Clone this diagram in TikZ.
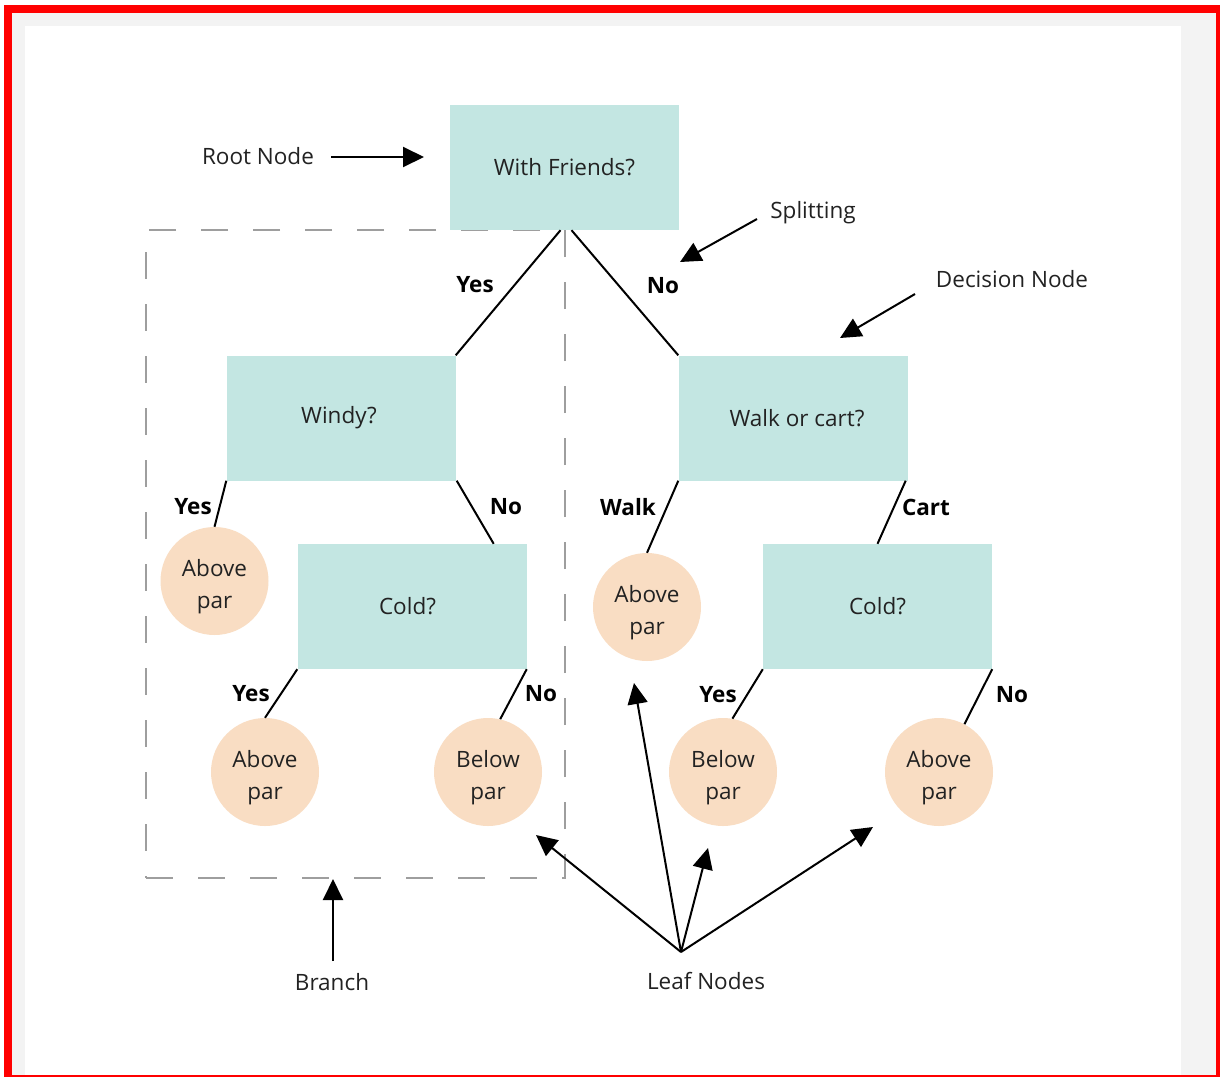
\documentclass[tikz,border=0pt]{standalone}
\usepackage{fontspec}
\setmainfont{Open Sans}
\usetikzlibrary{arrows.meta,calc}
\definecolor{boxc}{HTML}{C3E6E2}
\definecolor{leafc}{HTML}{F9DDC3}
\definecolor{bggray}{HTML}{F3F3F3}
\definecolor{txt}{HTML}{222222}
\definecolor{dashc}{HTML}{9E9E9E}
\begin{document}
\begin{tikzpicture}[x=1pt,y=-1pt,
 dbox/.style={rectangle,fill=boxc,minimum width=229pt,minimum height=125pt,inner sep=0pt,font=\fontsize{22.5}{27}\selectfont,text=txt},
 leaftxt/.style={align=center,inner sep=0pt,yshift=-6pt,font=\fontsize{22.5}{32}\selectfont,text=txt},
 leaf/.style={circle,fill=leafc,minimum size=108pt,inner sep=0pt,label={[leaftxt]center:#1}},
 lab/.style={font=\bfseries\fontsize{22.5}{27}\selectfont,text=black,inner sep=0pt},
 note/.style={font=\fontsize{22.5}{27}\selectfont,text=txt,inner sep=0pt},
 edge/.style={line width=2pt,black},
 pointer/.style={line width=2pt,black,-{Triangle[length=21pt,width=20pt]}}]
% background and frame
\useasboundingbox (0,0) rectangle (1221,1077);
\fill[white] (0,0) rectangle (1221,1077);
\fill[red] (4,5) rectangle (1220,1077);
\fill[bggray] (12,13) rectangle (1216,1075);
\fill[white] (25,26) rectangle (1181,1075);
% branch box
\node[draw=dashc,line width=2pt,dash pattern=on 27pt off 25pt,rectangle,minimum width=419pt,minimum height=648pt,inner sep=0pt] (branchbox) at (355.5,554) {};
% decision nodes
\node[dbox] (root) at (564.5,167.5) {With Friends?};
\node[dbox] (windy) at (341,418) {\hspace*{-4pt}Windy?};
\node[dbox] (walk) at (793,418) {\hspace*{8pt}Walk or cart?};
\node[dbox] (coldL) at (412,606.5) {\hspace*{-9pt}Cold?};
\node[dbox] (coldR) at (877.5,606.5) {Cold?};
% leaves
\node[leaf={Above\\par}] (leafA) at (214.5,581) {};
\node[leaf={Above\\par}] (leafB) at (647,607) {};
\node[leaf={Above\\par}] (leafC) at (265,772) {};
\node[leaf={Below\\par}] (leafD) at (488,772) {};
\node[leaf={Below\\par}] (leafE) at (723,772) {};
\node[leaf={Above\\par}] (leafF) at (939,772) {};
% edges
\draw[edge] ($(root.south)+(-4,0)$) -- (windy.north east);
\draw[edge] ($(root.south)+(7,0)$) -- (walk.north west);
\draw[edge] (windy.south west) -- (leafA.north);
\draw[edge] ($(windy.south east)+(1,0)$) -- ($(coldL.north east)+(-33,0)$);
\draw[edge] (walk.south west) -- (leafB.north);
\draw[edge] ($(walk.south east)+(-2,0)$) -- (coldR.north);
\draw[edge] (coldL.south west) -- (leafC.north);
\draw[edge] (coldL.south east) -- (leafD.77);
\draw[edge] (coldR.south west) -- (leafE.80);
\draw[edge] (coldR.south east) -- (leafF.62);
% edge labels
\node[lab] (l1) at (475,285) {Yes};
\node[lab] (l2) at (663,286) {No};
\node[lab] (l3) at (193,507) {Yes};
\node[lab] (l4) at (506,507) {No};
\node[lab] (l5) at (628,507) {Walk};
\node[lab] (l6) at (926,507) {Cart};
\node[lab] (l7) at (251,694) {Yes};
\node[lab] (l8) at (541,694) {No};
\node[lab] (l9) at (718,695) {Yes};
\node[lab] (l10) at (1012,695) {No};
% annotations
\node[note] (rootnote) at (258,156) {Root Node};
\draw[pointer] (rootnote.east)++(17,1) coordinate (rn) -- (424,157) coordinate (rt);
\node[note] (splitnote) at (813,213) {Splitting};
\coordinate (sp1) at (757,219);
\coordinate (sp2) at (680,262);
\draw[pointer] (sp1) -- (sp2);
\node[note] (decnote) at (1012,279) {Decision Node};
\coordinate (dn1) at (915,294);
\coordinate (dn2) at (840,338);
\draw[pointer] (dn1) -- (dn2);
\node[note] (branchnote) at (332,982) {Branch};
\coordinate (br1) at (333,961);
\draw[pointer] (br1) -- (branchbox.south -| br1);
\node[note] (leafnote) at (706,981) {Leaf Nodes};
\coordinate (lf) at (681,952);
\coordinate (t1) at (536,835);
\coordinate (t2) at (634,683);
\coordinate (t3) at (708,848);
\coordinate (t4) at (873,827);
\draw[pointer] (lf) -- (t1);
\draw[pointer] (lf) -- (t2);
\draw[pointer] (lf) -- (t3);
\draw[pointer] (lf) -- (t4);
\end{tikzpicture}
\end{document}
